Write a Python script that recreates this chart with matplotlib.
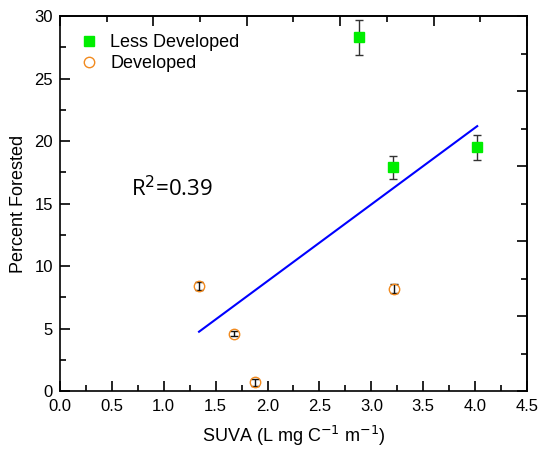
import matplotlib
matplotlib.use('Agg')
import matplotlib.pyplot as plt
from matplotlib.ticker import MultipleLocator, NullFormatter

plt.rcParams['font.family'] = ['Liberation Sans', 'DejaVu Sans']

# Less Developed
less_x = [2.88, 3.21, 4.02]
less_y = [28.3, 17.9, 19.5]
less_err = [1.4, 0.9, 1.0]

# Developed
dev_x = [1.34, 1.68, 1.88, 3.22]
dev_y = [8.4, 4.6, 0.7, 8.2]
dev_err = [0.35, 0.2, 0.3, 0.35]

# linear fit line
fit_x = [1.34, 4.02]
fit_y = [4.75, 21.2]

fig = plt.figure(figsize=(5.4, 4.49), dpi=100)
ax = fig.add_axes([0.111, 0.129, 0.865, 0.835])

ax.plot(fit_x, fit_y, color='#0000ff', lw=1.5, zorder=2)
ax.errorbar(less_x, less_y, yerr=less_err, fmt='s', color='#00ee00', ms=6.5,
            ecolor='#333333', elinewidth=1, capsize=3, capthick=1,
            label='Less Developed', zorder=3)
ax.errorbar(dev_x, dev_y, yerr=dev_err, fmt='o', mfc='none', mec='#f28a1e', ms=7.5,
            mew=1, ecolor='#111111', elinewidth=1, capsize=3, capthick=1,
            label='Developed', zorder=3)

ax.text(0.68, 16.2, 'R$^2$=0.39', fontsize=16, family=['Open Sans', 'DejaVu Sans'],
        va='center', ha='left')

ax.set_xlim(0, 4.5)
ax.set_ylim(0, 30)
ax.xaxis.set_major_locator(MultipleLocator(0.5))
ax.xaxis.set_minor_locator(MultipleLocator(0.25))
ax.yaxis.set_major_locator(MultipleLocator(5))
ax.yaxis.set_minor_locator(MultipleLocator(2.5))
ax.xaxis.set_major_formatter(plt.FormatStrFormatter('%.1f'))
ax.tick_params(which='both', direction='in', labelsize=12, width=1.2)
ax.tick_params(which='major', length=7)
ax.tick_params(which='minor', length=4)
ax.tick_params(axis='x', pad=6)
ax.tick_params(axis='y', pad=5)
for s in ax.spines.values():
    s.set_linewidth(1.2)

# top and right axes run 0..1 on their own (ticks only)
top = ax.secondary_xaxis('top', functions=(lambda v: v / 4.5, lambda v: v * 4.5))
right = ax.secondary_yaxis('right', functions=(lambda v: v / 30, lambda v: v * 30))
for sec, axis in [(top, top.xaxis), (right, right.yaxis)]:
    axis.set_major_locator(MultipleLocator(0.2))
    axis.set_minor_locator(MultipleLocator(0.1))
    axis.set_major_formatter(NullFormatter())
    sec.tick_params(which='both', direction='in', width=1.2)
    sec.tick_params(which='major', length=7)
    sec.tick_params(which='minor', length=4)
    for s in sec.spines.values():
        s.set_linewidth(1.2)

ax.set_xlabel('SUVA (L mg C$^{-1}$ m$^{-1}$)', fontsize=13, labelpad=7)
ax.set_ylabel('Percent Forested', fontsize=13, labelpad=5)

h, l = ax.get_legend_handles_labels()
h = [x[0] for x in h]
ax.legend(h, l, loc='upper left', frameon=False, fontsize=13, handletextpad=0.6,
          borderaxespad=0.6, handlelength=1.2, labelspacing=0.2)

fig.savefig('out.png', dpi=100)
